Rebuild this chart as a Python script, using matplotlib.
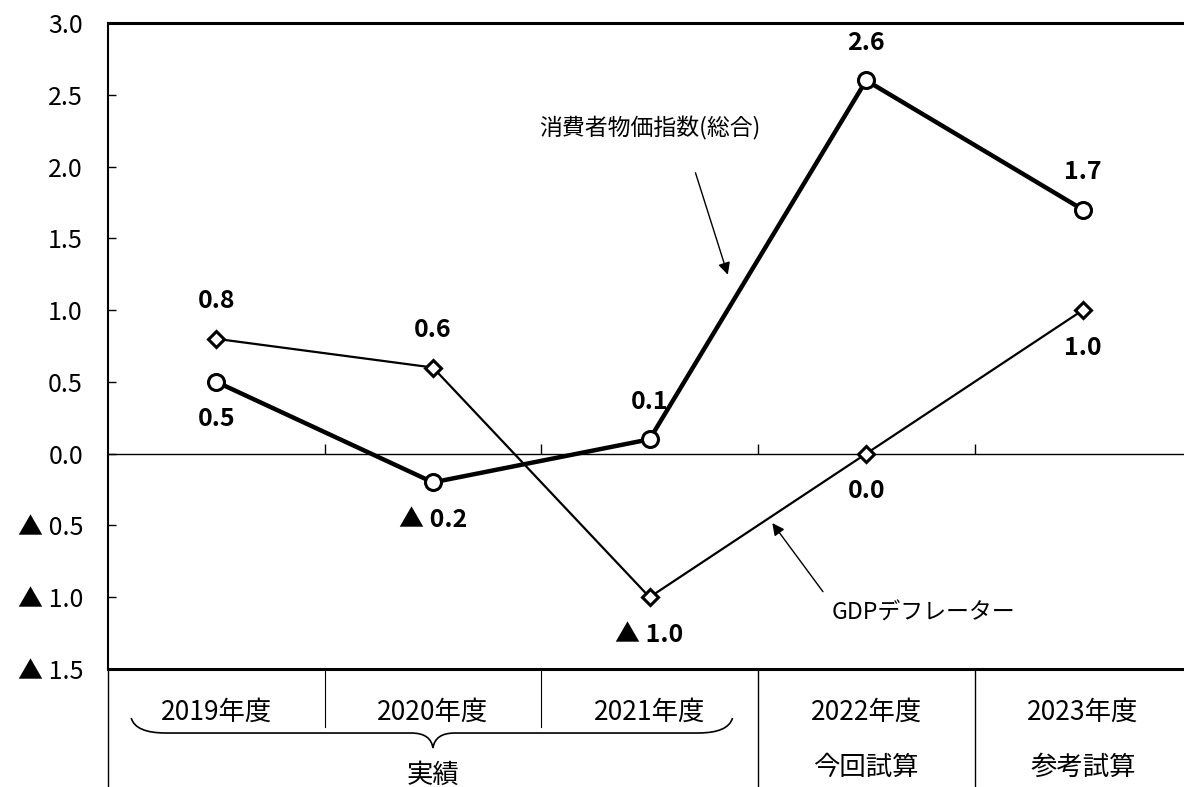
import numpy as np
import matplotlib
matplotlib.use("Agg")
import matplotlib.pyplot as plt
from matplotlib.path import Path
from matplotlib.patches import PathPatch

plt.rcParams['font.family'] = ['Noto Sans CJK JP', 'DejaVu Sans']

# data
years = ["2019年度", "2020年度", "2021年度", "2022年度", "2023年度"]
sub_labels = ["", "", "", "今回試算", "参考試算"]
cpi = [0.5, -0.2, 0.1, 2.6, 1.7]
gdp = [0.8, 0.6, -1.0, 0.0, 1.0]
cpi_label_pos = ["below", "below", "above", "above", "above"]
gdp_label_pos = ["above", "above", "below", "below", "below"]
yticks = [-1.5, -1.0, -0.5, 0.0, 0.5, 1.0, 1.5, 2.0, 2.5, 3.0]


def fmt(v):
    # negative values are shown with a triangle, Japanese style
    if v < 0:
        return "▲ %.1f" % abs(v)
    return "%.1f" % v


W, H = 1184, 787
fig = plt.figure(figsize=(W / 100, H / 100), dpi=100)
ax = fig.add_axes([108 / W, (H - 669) / H, (W - 108) / W, (669 - 23) / H])

x = np.arange(len(years))
ax.set_xlim(-0.5, 4.467)
ax.set_ylim(-1.5, 3.0)

# lines
ax.plot(x, gdp, color='black', lw=1.6, marker='D', markersize=8,
        markerfacecolor='white', markeredgecolor='black', markeredgewidth=2.2, zorder=3)
ax.plot(x, cpi, color='black', lw=3.2, marker='o', markersize=11.5,
        markerfacecolor='white', markeredgecolor='black', markeredgewidth=2.2, zorder=4)

lab_font = dict(fontsize=18, fontweight='bold')
for xi, v, p in zip(x, cpi, cpi_label_pos):
    dy = 27 if p == "above" else -27
    ax.annotate(fmt(v), (xi, v), xytext=(0, dy), textcoords='offset points',
                ha='center', va='center', **lab_font)
for xi, v, p in zip(x, gdp, gdp_label_pos):
    dy = 27 if p == "above" else -27
    ax.annotate(fmt(v), (xi, v), xytext=(0, dy), textcoords='offset points',
                ha='center', va='center', **lab_font)

# spines / axes
ax.spines['right'].set_visible(False)
ax.spines['top'].set_linewidth(2.2)
ax.spines['left'].set_linewidth(1.5)
ax.spines['bottom'].set_position(('data', 0))
ax.spines['bottom'].set_linewidth(1.0)
ax.axhline(-1.5, color='black', lw=2.2, clip_on=False, zorder=5)

ax.set_xticks(x[:-1] + 0.5)
ax.set_xticklabels([])
ax.tick_params(axis='x', direction='in', length=7, width=1, pad=0)

ax.set_yticks(yticks)
ax.set_yticklabels([fmt(v) for v in yticks], fontsize=18)
ax.tick_params(axis='y', direction='in', length=6, width=1, pad=18)

# category table under the plot
trans = ax.get_xaxis_transform()
ax.plot([-0.5, -0.5], [0, -0.19], transform=trans, color='black', lw=1, clip_on=False)
for b in [0.5, 1.5]:
    ax.plot([b, b], [0, -0.09], transform=trans, color='black', lw=0.8, clip_on=False)
for b in [2.5, 3.5]:
    ax.plot([b, b], [0, -0.19], transform=trans, color='black', lw=1, clip_on=False)

for xi, yl, sl in zip(x, years, sub_labels):
    ax.text(xi, -0.0666, yl, transform=trans, ha='center', va='center', fontsize=19)
    if sl:
        ax.text(xi, -0.152, sl, transform=trans, ha='center', va='center', fontsize=19)

# brace under the actual-results years
x0, x1, xm = -0.393, 2.383, 1.0
ye, yh, yt = -0.0759, -0.0991, -0.1223
verts = [(x0, ye), (x0 + 0.02, yh), (x0 + 0.16, yh),
         (xm - 0.1, yh),
         (xm - 0.01, yh), (xm, yt),
         (xm + 0.01, yh), (xm + 0.1, yh),
         (x1 - 0.16, yh),
         (x1 - 0.02, yh), (x1, ye)]
codes = [Path.MOVETO, Path.CURVE3, Path.CURVE3,
         Path.LINETO,
         Path.CURVE3, Path.CURVE3,
         Path.CURVE3, Path.CURVE3,
         Path.LINETO,
         Path.CURVE3, Path.CURVE3]
ax.add_patch(PathPatch(Path(verts, codes), transform=trans, fill=False,
                       lw=1.2, edgecolor='black', clip_on=False))
ax.text(xm, -0.165, "実績", transform=trans, ha='center', va='center', fontsize=19)

# series callouts
ax.text(2.0, 2.268, "消費者物価指数(総合)", ha='center', va='center', fontsize=16.5)
ax.annotate("", xy=(2.365, 1.228), xytext=(2.208, 1.975),
            arrowprops=dict(arrowstyle='-|>', color='black', lw=1, mutation_scale=18))
ax.text(3.266, -1.11, "GDPデフレーター", ha='center', va='center', fontsize=16.5)
ax.annotate("", xy=(2.559, -0.468), xytext=(2.808, -0.977),
            arrowprops=dict(arrowstyle='-|>', color='black', lw=1, mutation_scale=18))

fig.savefig("out.png", dpi=100)
